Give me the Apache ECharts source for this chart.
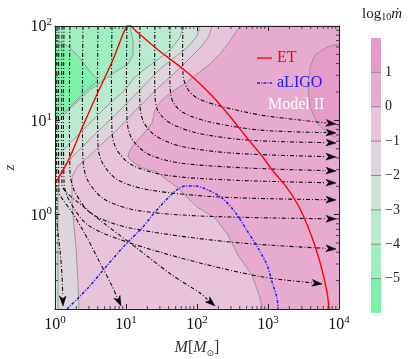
<!DOCTYPE html>
<html><head><meta charset="utf-8">
<script src="https://cdn.jsdelivr.net/npm/echarts/dist/echarts.min.js"></script>
<style>html,body{margin:0;padding:0;background:#fff}#c{width:415px;height:359px}</style>
</head><body><div id="c"></div>
<script>
const F = '"Liberation Serif", "DejaVu Serif", serif';
// axis ranges (M in solar masses, z)
const xRange = [1, 10000];
const yRange = [0.1, 100];
// colour levels of log10(mdot)
const binEdges = [-6, -5, -4, -3, -2, -1, 0, 1, 2];
const binColors = ['#7cf3aa', '#a0efc2', '#b8ebd0', '#d1e3d9', '#ddd5db', '#e8c4da', '#e8abd0', '#e59bc8'];
// contour lines, points as [log10 M, log10 z]
const contourM5 = [[0,1.841],[0.099,1.820],[0.183,1.788],[0.254,1.735],[0.324,1.682],[0.394,1.618],[0.465,1.544],[0.535,1.481],[0.606,1.428],[0.535,1.375],[0.465,1.332],[0.324,1.226],[0.183,1.120],[0.070,1.057],[0,1.014]];
const contourM4 = [[1.056,2],[1.099,1.852],[1.099,1.693],[1.028,1.597],[0.845,1.512],[0.690,1.428],[0.493,1.322],[0.296,1.184],[0.155,1.078],[0.042,0.993],[0,0.961]];
const contourM3 = [[1.803,2],[1.761,1.883],[1.648,1.767],[1.479,1.661],[1.282,1.555],[1.113,1.449],[0.986,1.322],[0.775,1.184],[0.577,1.035],[0.437,0.929],[0.254,0.791],[0.113,0.685],[0.028,0.601],[0,0.569]];
const contourM2 = [[2.042,2],[2.0,1.894],[1.873,1.777],[1.690,1.671],[1.493,1.555],[1.338,1.438],[1.197,1.322],[1.0,1.173],[0.789,1.014],[0.592,0.876],[0.423,0.749],[0.268,0.632],[0.141,0.526],[0.070,0.420],[0.042,0.261],[0.042,-1]];
const contourM1 = [[2.211,2],[2.169,1.894],[2.070,1.788],[1.930,1.682],[1.789,1.576],[1.620,1.459],[1.479,1.364],[1.338,1.258],[1.141,1.110],[0.915,0.929],[0.676,0.760],[0.465,0.611],[0.310,0.505],[0.239,0.399],[0.239,0.156],[0.254,-0.004],[0.296,-0.353],[0.324,-0.714],[0.338,-1]];
const contour0 = [[2.606,2],[2.465,1.841],[2.324,1.703],[2.183,1.597],[2.0,1.491],[1.859,1.406],[1.662,1.311],[1.507,1.216],[1.408,1.110],[1.366,0.972],[1.268,0.876],[1.127,0.760],[1.042,0.664],[1.028,0.611],[1.113,0.548],[1.239,0.495],[1.437,0.452],[1.577,0.367],[1.718,0.293],[1.859,0.187],[2.0,0.081],[2.254,-0.035],[2.437,-0.216],[2.577,-0.428],[2.775,-0.640],[2.887,-0.884],[2.915,-1]];
const contourP1 = [[4,1.809],[3.831,1.777],[3.662,1.693],[3.592,1.565],[3.563,1.353],[3.592,1.141],[3.690,0.972],[3.831,0.866],[4,0.791]];
// detector horizons [log10 M, log10 z]
const etCurve = [[0,0.336],[0.099,0.452],[0.211,0.611],[0.380,0.919],[0.493,1.110],[0.606,1.300],[0.718,1.481],[0.803,1.618],[0.887,1.777],[0.958,1.915],[1.014,2.0],[1.042,2.011],[1.085,1.989],[1.155,1.936],[1.239,1.883],[1.437,1.756],[1.620,1.650],[1.803,1.544],[2.0,1.417],[2.254,1.226],[2.493,1.014],[2.718,0.802],[2.915,0.622],[3.070,0.463],[3.239,0.314],[3.423,0.102],[3.592,-0.184],[3.732,-0.502],[3.831,-0.820],[3.859,-1.0]];
const aligoCurve = [[0.169,-1],[0.465,-0.777],[0.704,-0.565],[0.986,-0.322],[1.225,-0.141],[1.408,0.028],[1.592,0.177],[1.732,0.272],[1.845,0.304],[1.972,0.304],[2.155,0.261],[2.352,0.177],[2.535,0.028],[2.718,-0.184],[2.859,-0.353],[2.986,-0.534],[3.070,-0.746],[3.127,-0.884],[3.141,-1.0]];
// evolution streamlines [log10 M, log10 z], arrow at the end
const streamlines = [
 [[1.803,2],[1.803,1.491],[1.859,1.343],[2.0,1.237],[2.324,1.152],[2.887,1.057],[3.451,1.003],[3.958,0.961]],
 [[1.620,2],[1.620,1.364],[1.662,1.194],[1.817,1.078],[2.183,0.982],[2.887,0.897],[3.958,0.866]],
 [[1.408,2],[1.408,1.258],[1.451,1.099],[1.620,0.972],[2.0,0.866],[2.704,0.791],[3.958,0.760]],
 [[1.197,2],[1.197,1.152],[1.254,0.972],[1.423,0.834],[1.761,0.728],[2.465,0.654],[3.958,0.611]],
 [[1.014,2],[1.014,1.003],[1.085,0.802],[1.310,0.643],[1.761,0.548],[2.704,0.495],[3.958,0.463]],
 [[0.803,2],[0.803,0.876],[0.873,0.685],[1.085,0.526],[1.549,0.420],[2.465,0.367],[3.958,0.336]],
 [[0.606,2],[0.606,0.728],[0.676,0.537],[0.887,0.367],[1.338,0.261],[2.324,0.187],[3.958,0.156]],
 [[0.394,2],[0.394,0.580],[0.465,0.357],[0.690,0.166],[1.127,0.049],[2.042,-0.014],[3.958,-0.046]],
 [[0.211,2],[0.211,0.452],[0.282,0.240],[0.521,0.007],[1.056,-0.141],[2.465,-0.290],[3.958,-0.364]],
 [[0.127,2],[0.127,0.346],[0.197,0.156],[0.465,-0.110],[1.056,-0.300],[2.042,-0.512],[2.930,-0.661],[3.761,-0.735]],
 [[0.099,2],[0.099,0.314],[0.155,0.240],[0.282,0.156],[0.704,-0.099],[1.169,-0.364],[1.648,-0.640],[2.042,-0.830],[2.254,-0.968]],
 [[0.056,2],[0.056,0.240],[0.113,0.156],[0.239,0.028],[0.423,-0.205],[0.606,-0.470],[0.803,-0.756],[0.930,-0.968]],
 [[0.028,2],[0.028,-0.057],[0.070,-0.375],[0.099,-0.640],[0.113,-0.968]]
];
// minor tick values
const minorX = [2,3,4,5,6,7,8,9,20,30,40,50,60,70,80,90,200,300,400,500,600,700,800,900,2000,3000,4000,5000,6000,7000,8000,9000];
const minorY = [0.2,0.3,0.4,0.5,0.6,0.7,0.8,0.9,2,3,4,5,6,7,8,9,20,30,40,50,60,70,80,90];
// legend entries
const legendNames = ['ET', 'aLIGO'];
const legendColors = ['#ff0000', '#2020f0'];

const lx0 = Math.log10(xRange[0]), lx1 = Math.log10(xRange[1]);
const ly0 = Math.log10(yRange[0]), ly1 = Math.log10(yRange[1]);
const V = p => [Math.pow(10, p[0]), Math.pow(10, p[1])];
function closeBR(line) {
  const pts = line.slice();
  const last = pts[pts.length - 1];
  if (last[0] <= lx0 + 1e-6 && last[1] > ly0) pts.push([lx0, ly0]);
  pts.push([lx1, ly0], [lx1, ly1]);
  return pts;
}
const regions = [
  {pts: [[lx0,ly0],[lx1,ly0],[lx1,ly1],[lx0,ly1]], color: binColors[1], line: null},
  {pts: contourM5, color: binColors[0], line: contourM5},
  {pts: closeBR(contourM4), color: binColors[2], line: contourM4},
  {pts: closeBR(contourM3), color: binColors[3], line: contourM3},
  {pts: closeBR(contourM2), color: binColors[4], line: contourM2},
  {pts: closeBR(contourM1), color: binColors[5], line: contourM1},
  {pts: closeBR(contour0), color: binColors[6], line: contour0},
  {pts: contourP1, color: binColors[7], line: contourP1}
];

function powLabel(v) {
  const e = Math.round(Math.log10(v));
  return '{b|10}{s|' + (e < 0 ? '\u2212' + (-e) : e) + '}';
}
const richPow = {
  b: {fontFamily: F, fontSize: 16, color: '#111', lineHeight: 18, verticalAlign: 'bottom'},
  s: {fontFamily: F, fontSize: 11, color: '#111', lineHeight: 11, verticalAlign: 'top'}
};
const tickStyle = {show: true, inside: true, length: 5, lineStyle: {color: '#222', width: 1}};
const lineAx = {show: true, lineStyle: {color: '#222', width: 1}};
const iconSolid = 'path://M0,0h15v1.4h-15z';
const iconDashDot = 'path://M0,0h3v1.5h-3zM4.2,0h1v1.5h-1zM6.4,0h3v1.5h-3zM10.6,0h1v1.5h-1zM12.8,0h2.2v1.5h-2.2z';

const chart = echarts.init(document.getElementById('c'), null, {renderer: 'canvas'});
chart.setOption({
  animation: false,
  backgroundColor: '#fff',
  grid: [
    {left: 55, top: 26, width: 284, height: 283, outerBoundsMode: 'none', containLabel: false},
    {left: 371, top: 38, width: 10, height: 275, outerBoundsMode: 'none', containLabel: false}
  ],
  xAxis: [
    {type: 'log', gridIndex: 0, min: xRange[0], max: xRange[1], logBase: 10, z: 10,
     axisLine: lineAx, axisTick: tickStyle, splitLine: {show: false}, minorTick: {show: false},
     axisLabel: {margin: 6, formatter: powLabel, rich: richPow},
     name: '{i|M}[{i|M}{sub|\u2299}]', nameLocation: 'middle', nameGap: 27,
     nameTextStyle: {fontFamily: F, fontSize: 16, color: '#333', lineHeight: 20,
       rich: {i: {fontFamily: F, fontStyle: 'italic', fontSize: 16, color: '#333', lineHeight: 20},
              sub: {fontFamily: '"DejaVu Sans"', fontSize: 9, color: '#333', lineHeight: 10, verticalAlign: 'bottom'}}}},
    {type: 'log', gridIndex: 0, position: 'top', min: xRange[0], max: xRange[1], logBase: 10, z: 10,
     axisLine: lineAx, axisTick: tickStyle, axisLabel: {show: false}, splitLine: {show: false}},
    {type: 'value', gridIndex: 1, min: 0, max: 1, show: false}
  ],
  yAxis: [
    {type: 'log', gridIndex: 0, min: yRange[0], max: yRange[1], logBase: 10, z: 10,
     axisLine: lineAx, axisTick: tickStyle, splitLine: {show: false},
     axisLabel: {margin: 3, formatter: v => (v < 0.5 ? '' : powLabel(v)), rich: richPow},
     name: 'z', nameLocation: 'middle', nameGap: 37,
     nameTextStyle: {fontFamily: F, fontStyle: 'italic', fontSize: 15, color: '#333'}},
    {type: 'log', gridIndex: 0, position: 'right', min: yRange[0], max: yRange[1], logBase: 10, z: 10,
     axisLine: lineAx, axisTick: tickStyle, axisLabel: {show: false}, splitLine: {show: false}},
    {type: 'value', gridIndex: 1, min: binEdges[0], max: binEdges[binEdges.length - 1], interval: 1, position: 'right',
     axisLine: {show: false}, axisTick: {show: false}, splitLine: {show: false},
     axisLabel: {margin: 4, fontFamily: F, fontSize: 14, color: '#222',
       formatter: v => (v <= binEdges[0] || v >= binEdges[binEdges.length - 1]) ? '' : (v < 0 ? '\u2212' + (-v) : String(v))}}
  ],
  legend: {
    left: 257, top: 50, orient: 'vertical', padding: 0, itemWidth: 15, itemHeight: 12, itemGap: 9,
    textStyle: {fontFamily: F, fontSize: 16, lineHeight: 14},
    data: [
      {name: legendNames[0], icon: iconSolid, textStyle: {color: legendColors[0]}},
      {name: legendNames[1], icon: iconDashDot, textStyle: {color: legendColors[1]}}
    ]
  },
  graphic: [
    {type: 'text', left: 268, top: 97, z: 20, style: {text: 'Model II', fill: '#ffffff', font: '16px ' + F}},
    {type: 'text', left: 362, top: 7, z: 20, style: {
      text: '{n|log}{s|10}{i|\u1e41}',
      rich: {n: {fontFamily: F, fontSize: 15, fill: '#222', lineHeight: 18, verticalAlign: 'bottom'},
             s: {fontFamily: F, fontSize: 10, fill: '#222', lineHeight: 10, verticalAlign: 'bottom'},
             i: {fontFamily: F, fontStyle: 'italic', fontSize: 15, fill: '#222', lineHeight: 18, verticalAlign: 'bottom'}}}}
  ],
  series: [
    {type: 'custom', name: 'field', coordinateSystem: 'cartesian2d', xAxisIndex: 0, yAxisIndex: 0, z: 1, silent: true,
     data: regions.map((r, i) => [1, 1, i]),
     renderItem: (params, api) => {
       const r = regions[params.dataIndex];
       const ch = [{type: 'polygon', shape: {points: r.pts.map(p => api.coord(V(p)))},
                    style: {fill: r.color, stroke: r.color, lineWidth: 0.3}}];
       if (r.line) ch.push({type: 'polyline', shape: {points: r.line.map(p => api.coord(V(p)))},
                    style: {fill: null, stroke: '#8a8a8a', lineWidth: 0.8}});
       return {type: 'group', children: ch};
     }},
    {type: 'custom', name: 'flow', coordinateSystem: 'cartesian2d', xAxisIndex: 0, yAxisIndex: 0, z: 3, silent: true,
     data: streamlines.map((s, i) => [1, 1, i]),
     renderItem: (params, api) => {
       const pts = streamlines[params.dataIndex].map(p => api.coord(V(p)));
       const n = pts.length, tip = pts[n - 1], prev = pts[n - 2];
       let dx = tip[0] - prev[0], dy = tip[1] - prev[1];
       const len = Math.hypot(dx, dy); dx /= len; dy /= len;
       const bx = tip[0] - 10 * dx, by = tip[1] - 10 * dy;
       const nx = -dy * 3.4, ny = dx * 3.4;
       const linePts = pts.slice(0, n - 1).concat([[bx, by]]);
       return {type: 'group', children: [
         {type: 'polyline', shape: {points: linePts, smooth: 0.3},
          style: {fill: null, stroke: '#111', lineWidth: 1.1, lineDash: [4, 2, 1, 2]}},
         {type: 'polygon', shape: {points: [tip, [bx + nx, by + ny], [bx + 2.5 * dx, by + 2.5 * dy], [bx - nx, by - ny]]},
          style: {fill: '#000', stroke: '#000', lineWidth: 0.5}}
       ]};
     }},
    {type: 'line', name: legendNames[0], xAxisIndex: 0, yAxisIndex: 0, z: 5, symbol: 'none', smooth: 0.3, clip: true,
     data: etCurve.map(V), itemStyle: {color: legendColors[0]}, lineStyle: {color: legendColors[0], width: 1.4}},
    {type: 'line', name: legendNames[1], xAxisIndex: 0, yAxisIndex: 0, z: 5, symbol: 'none', smooth: 0.3, clip: true,
     data: aligoCurve.map(V), itemStyle: {color: legendColors[1]}, lineStyle: {color: legendColors[1], width: 1.5, type: [3, 1.5, 1, 1.5]}},
    {type: 'custom', name: 'minorX', coordinateSystem: 'cartesian2d', xAxisIndex: 0, yAxisIndex: 0, z: 12, silent: true,
     data: minorX.map(v => [v, 1]),
     renderItem: (params, api) => {
       const v = api.value(0);
       const b = api.coord([v, yRange[0]]), t = api.coord([v, yRange[1]]);
       return {type: 'group', children: [
         {type: 'line', shape: {x1: b[0], y1: b[1], x2: b[0], y2: b[1] - 3}, style: {stroke: '#222', lineWidth: 0.8}},
         {type: 'line', shape: {x1: t[0], y1: t[1], x2: t[0], y2: t[1] + 3}, style: {stroke: '#222', lineWidth: 0.8}}
       ]};
     }},
    {type: 'custom', name: 'minorY', coordinateSystem: 'cartesian2d', xAxisIndex: 0, yAxisIndex: 0, z: 12, silent: true,
     data: minorY.map(v => [1, v]),
     renderItem: (params, api) => {
       const v = api.value(1);
       const l = api.coord([xRange[0], v]), r = api.coord([xRange[1], v]);
       return {type: 'group', children: [
         {type: 'line', shape: {x1: l[0], y1: l[1], x2: l[0] + 3, y2: l[1]}, style: {stroke: '#222', lineWidth: 0.8}},
         {type: 'line', shape: {x1: r[0], y1: r[1], x2: r[0] - 3, y2: r[1]}, style: {stroke: '#222', lineWidth: 0.8}}
       ]};
     }},
    {type: 'custom', name: 'colorbar', coordinateSystem: 'cartesian2d', xAxisIndex: 2, yAxisIndex: 2, z: 2, silent: true,
     data: binColors.map((c, i) => [0.5, binEdges[i]]),
     renderItem: (params, api) => {
       const i = params.dataIndex;
       const p1 = api.coord([0, binEdges[i + 1]]), p2 = api.coord([1, binEdges[i]]);
       const ch = [{type: 'rect', shape: {x: p1[0], y: p1[1], width: p2[0] - p1[0], height: p2[1] - p1[1]},
                    style: {fill: binColors[i]}}];
       if (i > 0) ch.push({type: 'line', shape: {x1: p1[0], y1: p2[1], x2: p2[0], y2: p2[1]},
                    style: {stroke: '#8a8a8a', lineWidth: 1}});
       return {type: 'group', children: ch};
     }}
  ]
});
</script></body></html>
